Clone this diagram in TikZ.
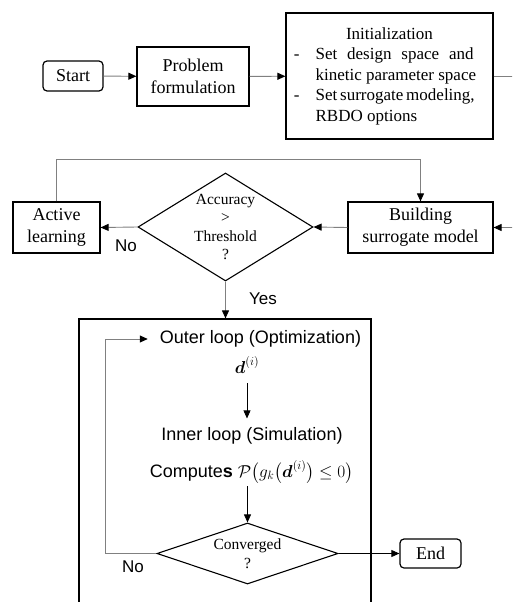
\documentclass[tikz,border=0pt]{standalone}
\usepackage{fontspec}
\setmainfont{Liberation Serif}
\setsansfont{Liberation Sans}
\usepackage{amsmath}
\usetikzlibrary{shapes.geometric,arrows.meta}
\definecolor{conn}{RGB}{128,128,128}
\begin{document}
\begin{tikzpicture}[x=1pt,y=1pt,
  box/.style={draw=black,line width=1.2pt,inner sep=0pt,align=center,font=\fontsize{18}{22}\selectfont},
  term/.style={box,rounded corners=4pt},
  dia/.style={diamond,draw=black,line width=1.1pt,inner sep=0pt,align=center,font=\fontsize{15.5}{18.5}\selectfont},
  garr/.style={draw=conn,line width=0.9pt,-{Triangle[color=black,length=8pt,width=7pt]}},
  barr/.style={draw=black,line width=0.7pt,-{Triangle[color=black,length=8pt,width=7pt]}},
  lbl/.style={font=\sffamily\fontsize{17}{20}\selectfont,inner sep=0pt},
  txt/.style={font=\sffamily\fontsize{18}{21}\selectfont,inner sep=0pt},
]
\useasboundingbox (0,0) rectangle (512,-602);
\clip (0,0) rectangle (512,-602);

% top row
\node[term, minimum width=60, minimum height=30] (start) at (73,-76) {Start};
\node[box, minimum width=112, minimum height=59] (prob) at (193,-76.5) {Problem\\formulation};
\node[box, minimum width=207, minimum height=126, font=\fontsize{17}{20.5}\selectfont] (init) at (389.5,-76)
  {\begin{tabular}{@{}l@{\hspace{16pt}}l@{\hspace{9pt}}}
   \multicolumn{2}{@{}c@{}}{Initialization}\\
   -&\makebox[158pt][s]{Set design space and}\\
    &kinetic parameter space\\
   -&\makebox[158pt][s]{Set surrogate modeling,}\\
    &RBDO options
   \end{tabular}};
\coordinate (rt) at (530,-76);

% second row
\node[box, minimum width=87, minimum height=51] (act) at (56.5,-227.5) {Active\\learning};
\node[box, minimum width=145, minimum height=51] (build) at (420.5,-227.5) {Building\\surrogate model};
\node[dia, minimum width=175, minimum height=108, shape aspect=1.62] (acc) at (225.5,-227) {Accuracy\\>\\Threshold\\?};

% RBDO loop
\node[draw=black,line width=1.2pt,minimum width=292,minimum height=320,inner sep=0pt] (loop) at (225,-479) {};
\node[txt] (outer) at (260.5,-339) {Outer loop (Optimization)};
\node[txt] (dvec) at (247,-365) {$\boldsymbol{d}^{(i)}$};
\node[txt] (inner) at (252,-436) {Inner loop (Simulation)};
\node[txt] (comp) at (251.5,-472) {Compute\textbf{s} $\mathcal{P}\bigl(g_k\bigl(\boldsymbol{d}^{(i)}\bigr)\le 0\bigr)$};
\node[dia, minimum width=181, minimum height=61, shape aspect=2.97] (conv) at (247.5,-553.5) {Converged\\?};
\node[term, minimum width=61, minimum height=29] (end) at (430.5,-553.5) {End};

% labels
\node[lbl] (no1) at (126,-246) {No};
\node[lbl] (yes) at (263,-299) {Yes};
\node[lbl] (no2) at (133,-567) {No};

% connectors
\draw[garr] (start) -- (prob);
\draw[garr] (prob) -- (init);
\draw[garr] (init.east) -- (rt) |- (build.east);
\draw[garr] (build.west) -- (acc.east);
\draw[garr] (acc.west) -- (act.east);
\draw[garr] (act.north) -- ++(0,42) -| (build.north);
\draw[garr] (acc.south) -- (acc.south |- loop.north);
\draw[barr] ([yshift=-10]dvec.south) -- ([yshift=9]dvec.south |- inner.north);
\draw[barr] ([yshift=-3]comp.south -| conv.north) -- (conv.north);
\draw[garr] (conv.west) -- ++(-51,0) |- ([xshift=-12]outer.west);
\draw[barr] (conv.east) -- (end.west);
\end{tikzpicture}
\end{document}
